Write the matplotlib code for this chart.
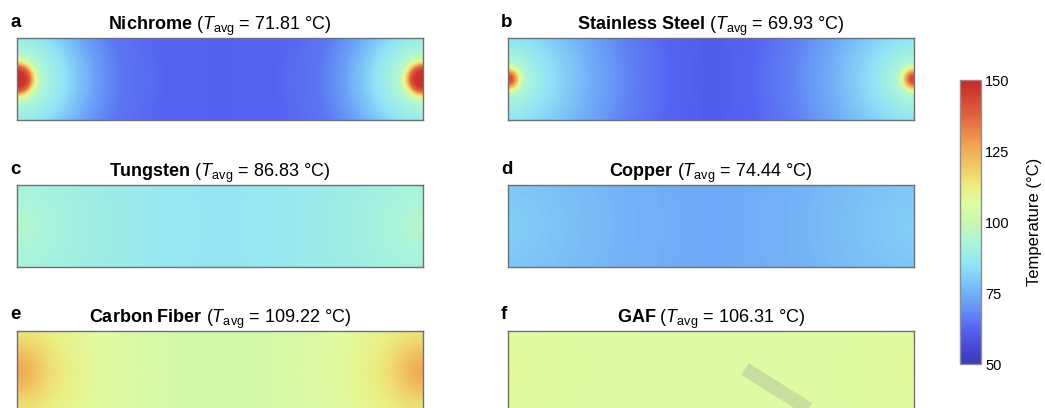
import numpy as np
import matplotlib
matplotlib.use("Agg")
import matplotlib.pyplot as plt
from matplotlib.colors import LinearSegmentedColormap


plt.rcParams["font.family"] = ["Liberation Sans", "DejaVu Sans"]
plt.rcParams["mathtext.fontset"] = "custom"
plt.rcParams["mathtext.rm"] = "Liberation Sans"
plt.rcParams["mathtext.it"] = "Liberation Sans:italic"
plt.rcParams["mathtext.bf"] = "Liberation Sans:bold"

# materials and simulated averages
letters = ["a", "b", "c", "d", "e", "f"]
materials = ["Nichrome", "Stainless Steel", "Tungsten", "Copper", "Carbon Fiber", "GAF"]
t_avg = [71.81, 69.93, 86.83, 74.44, 109.22, 106.31]

# temperature (°C) versus distance from the heated end-point (units of strip height)
nichrome_r = [0, 0.1, 0.16, 0.2, 0.25, 0.33, 0.5, 0.75, 1.0, 1.3, 1.8, 2.5]
nichrome_t = [150, 147, 136, 118, 102, 93, 88, 79, 71, 65, 62.5, 62]
steel_r = [0, 0.05, 0.1, 0.15, 0.22, 0.5, 1.0, 1.5, 2.0, 2.5]
steel_t = [145, 140, 125, 105, 93, 85, 75, 67, 62.5, 61]
tungsten_r = [0, 0.3, 0.7, 1.2, 1.8, 2.5]
tungsten_t = [96, 92.5, 90.5, 88.5, 87, 86]
copper_r = [0, 0.5, 1.0, 1.7, 2.5]
copper_t = [81, 79, 77, 75, 73.5]
carbon_r = [0, 0.2, 0.4, 0.7, 1.0, 1.5, 2.0, 2.5]
carbon_t = [127, 122, 116, 111, 108, 105, 103, 102.5]
gaf_r = [0, 0.6, 1.5, 2.5]
gaf_t = [108, 107, 106.3, 106]

profiles = [
    (nichrome_r, nichrome_t),
    (steel_r, steel_t),
    (tungsten_r, tungsten_t),
    (copper_r, copper_t),
    (carbon_r, carbon_t),
    (gaf_r, gaf_t),
]

t_min, t_max = 50, 150
cbar_ticks = [50, 75, 100, 125, 150]

# light rainbow colour scale
cmap_stops = [
    (50, "#3c3cb4"), (55, "#4646d2"), (62, "#5662f2"), (70, "#6696f6"),
    (77, "#78bcf8"), (85, "#90e4f6"), (92, "#a8f4dc"), (100, "#c8f8b0"),
    (107, "#e0fca0"), (113, "#ecec80"), (120, "#f0c864"), (128, "#f0a050"),
    (138, "#e06040"), (150, "#c82828"),
]
cmap = LinearSegmentedColormap.from_list(
    "rainbow_light",
    [((v - t_min) / (t_max - t_min), c) for v, c in cmap_stops]
)

# strip geometry: length 5, height 1, heaters at both ends mid-height
length, height = 5.0, 1.0
xs = np.linspace(0, length, 600)
ys = np.linspace(0, height, 120)
X, Y = np.meshgrid(xs, ys)
dist = np.minimum(
    np.hypot(X, Y - height / 2),
    np.hypot(X - length, Y - height / 2)
)

fig = plt.figure(figsize=(10.45, 4.08), dpi=100)

ax_w, ax_h = 0.3885, 0.1998
lefts = [0.0163, 0.4861]
bottoms = [0.7059, 0.3468, -0.0103]

axes = []
for i in range(6):
    row, col = divmod(i, 2)
    ax = fig.add_axes([lefts[col], bottoms[row], ax_w, ax_h])
    r, t = profiles[i]
    field = np.interp(dist, r, t)
    im = ax.imshow(
        field,
        cmap=cmap,
        vmin=t_min,
        vmax=t_max,
        extent=(0, length, 0, height),
        origin="lower",
        aspect="auto",
        interpolation="bilinear"
    )
    ax.set_xlim(0, length)
    ax.set_ylim(0, height)
    ax.set_xticks([])
    ax.set_yticks([])
    for sp in ax.spines.values():
        sp.set_color("#707070")
        sp.set_linewidth(1.0)

    name = materials[i].replace(" ", r"\ ")
    ax.set_title(
        r"$\mathbf{" + name + r"}$ ($\mathit{T}_{\mathrm{avg}}$ = "
        + f"{t_avg[i]:.2f}" + " °C)",
        fontsize=13,
        pad=4
    )
    fig.text(
        lefts[col] - 0.0067,
        bottoms[row] + ax_h + 0.028,
        letters[i],
        fontsize=13.5,
        fontweight="bold",
        va="baseline",
        ha="left"
    )
    axes.append(ax)

# faint diagonal stripe over the GAF panel
axes[5].plot(
    [0.584 * length, 0.823 * length],
    [0.53 * height, -0.22 * height],
    color="#9a9a9a",
    alpha=0.29,
    linewidth=10,
    solid_capstyle="butt",
    clip_on=False
)
axes[5].set_xlim(0, length)
axes[5].set_ylim(0, height)

cax = fig.add_axes([0.9187, 0.1078, 0.0201, 0.695])
cb = fig.colorbar(im, cax=cax, ticks=cbar_ticks)
cb.outline.set_edgecolor("#909090")
cb.outline.set_linewidth(1.0)
cb.ax.tick_params(length=0, labelsize=10.5, pad=3)
cb.set_label("Temperature (°C)", fontsize=12, labelpad=12)

fig.savefig("out.png", dpi=100)
